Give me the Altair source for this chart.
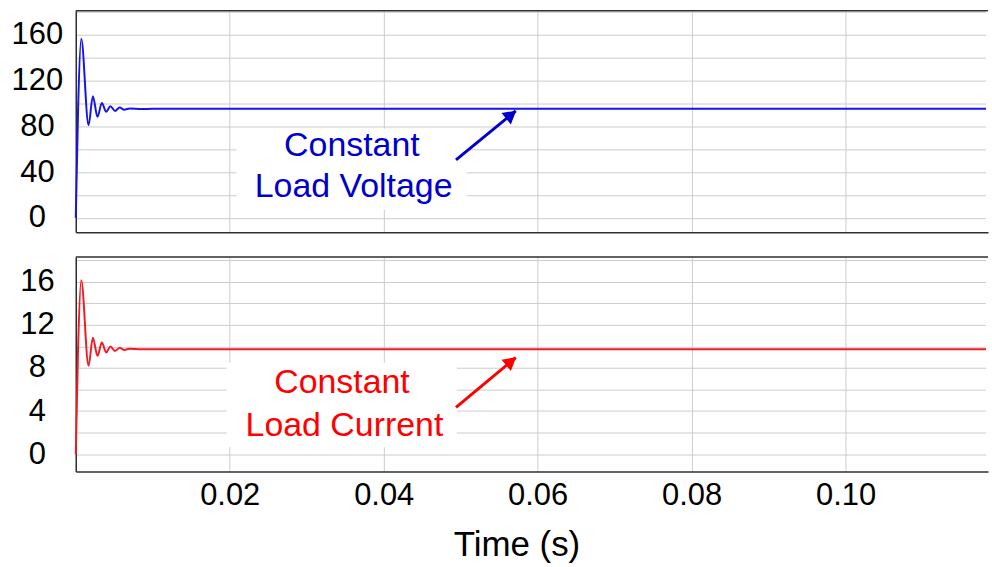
import altair as alt
import pandas as pd

# ---------------- data ----------------
t_ms = [0.0, 0.3, 0.71, 1.66, 2.22, 2.82, 3.39, 3.95, 4.5, 5.1, 5.7, 6.3, 7.0,
        8.5, 10.0, 30.0, 60.0, 90.0, 118.5]
voltage = [0.0, 95.0, 156.5, 81.0, 106.4, 88.3, 100.5, 92.7, 97.6, 93.5, 96.4,
           94.6, 95.6, 95.2, 95.3, 95.3, 95.3, 95.3, 95.3]
current = [0.0, 9.8, 16.16, 8.2, 10.82, 9.13, 10.36, 9.44, 9.99, 9.59, 9.87,
           9.68, 9.80, 9.74, 9.75, 9.75, 9.75, 9.75, 9.75]

x_grid = [0.0, 0.02, 0.04, 0.06, 0.08, 0.10]
x_domain = [0.0, 0.1185]

v_grid = [0, 20, 40, 60, 80, 100, 120, 140, 160, 180]
v_domain = [-12.5, 181.0]
i_grid = [0, 2, 4, 6, 8, 10, 12, 14, 16, 18]
i_domain = [-1.6, 18.3]

# annotations
v_text = ["Constant", "Load Voltage"]
v_text_t = [0.03587, 0.03609]
v_text_y = [63.0, 27.0]
v_box_t = [0.0209, 0.0508]
v_box_y = [7.0, 77.8]
v_arrow_t = [0.04939, 0.05715]
v_arrow_y = [50.7, 93.5]
v_head = [0.05656, 90.2]

i_text = ["Constant", "Load Current"]
i_text_t = [0.03458, 0.0349]
i_text_y = [6.6, 2.6]
i_box_t = [0.0196, 0.0495]
i_box_y = [0.65, 8.5]
i_arrow_t = [0.04939, 0.05715]
i_arrow_y = [4.35, 8.97]
i_head = [0.05656, 8.62]

W = 915
H1, H2 = 222, 215
FONT = "Liberation Sans"
FRAME = "#2e2e2e"

xscale = alt.Scale(domain=x_domain, nice=False, zero=False)


def panel(values, color, text_color, ydomain, ygrid, labstep, h, texts, tt, ty,
          box_t, box_y, arr_t, arr_y, head, bottom):
    yscale = alt.Scale(domain=ydomain, nice=False, zero=False)
    if bottom:
        xaxis = alt.Axis(values=x_grid, title="Time (s)",
                         labelExpr="datum.value == 0 ? '' : format(datum.value, '.2f')",
                         labelFontSize={"condition": {"test": "datum.value == 0", "value": 0},
                                        "value": 31},
                         ticks=False, tickSize=0, labelPadding=9, titlePadding=17,
                         titleX=442, titleAnchor="middle", titleAlign="center",
                         labelOverlap=False, labelFlush=False, grid=True)
    else:
        xaxis = alt.Axis(values=x_grid, title=None, labels=False, ticks=False,
                         tickSize=0, grid=True)
    yaxis = alt.Axis(values=ygrid, title=None,
                     labelExpr=f"datum.value % {labstep} == 0 ? datum.label : ''",
                     labelFontSize={"condition": {"test": f"datum.value % {labstep} != 0",
                                                  "value": 0},
                                    "value": 31},
                     labelAlign="center", labelBaseline="middle", labelPadding=39,
                     ticks=False, tickSize=0, labelOverlap=False, grid=True)

    def X(f="t:Q"):
        return alt.X(f, scale=xscale, axis=xaxis)

    def Y(f="y:Q"):
        return alt.Y(f, scale=yscale, axis=yaxis)

    df = pd.DataFrame({"t": [v / 1000 for v in t_ms], "y": values})
    line = alt.Chart(df).mark_line(color=color, strokeWidth=2,
                                   interpolate="monotone").encode(x=X(), y=Y())

    bdf = pd.DataFrame({"t": [box_t[0]], "t2": [box_t[1]],
                        "y": [box_y[0]], "y2": [box_y[1]]})
    box = alt.Chart(bdf).mark_rect(color="white").encode(
        x=X(), x2="t2:Q", y=Y(), y2="y2:Q")

    tdf = pd.DataFrame({"t": tt, "y": ty, "label": texts})
    text = alt.Chart(tdf).mark_text(font=FONT, fontSize=34, color=text_color,
                                    align="center", baseline="middle").encode(
        x=X(), y=Y(), text="label:N")

    adf = pd.DataFrame({"t": [arr_t[0]], "t2": [arr_t[1]],
                        "y": [arr_y[0]], "y2": [arr_y[1]]})
    arrow = alt.Chart(adf).mark_rule(color=text_color, strokeWidth=3).encode(
        x=X(), x2="t2:Q", y=Y(), y2="y2:Q")

    hdf = pd.DataFrame({"t": [head[0]], "y": [head[1]]})
    arrow_head = alt.Chart(hdf).mark_point(shape="triangle-up", filled=True,
                                           size=220, angle=51, opacity=1,
                                           color=text_color).encode(x=X(), y=Y())

    top = alt.Chart(pd.DataFrame({"a": [0]})).mark_rule(
        color=FRAME, strokeWidth=1.5).encode(
        x=alt.value(0), x2=alt.value(W), y=alt.value(0))

    # white strip hiding the right-hand edge (the reference has no right border)
    right_cover = alt.Chart(pd.DataFrame({"a": [0]})).mark_rule(
        color="white", strokeWidth=4).encode(
        x=alt.value(W), y=alt.value(1), y2=alt.value(h - 1))

    return alt.layer(line, box, text, arrow, arrow_head, top,
                     right_cover).properties(width=W, height=h)


top_panel = panel(voltage, "#1414f0", "#0000cc", v_domain, v_grid, 40, H1,
                  v_text, v_text_t, v_text_y, v_box_t, v_box_y,
                  v_arrow_t, v_arrow_y, v_head, False)
bottom_panel = panel(current, "#f01c24", "#ff0000", i_domain, i_grid, 4, H2,
                     i_text, i_text_t, i_text_y, i_box_t, i_box_y,
                     i_arrow_t, i_arrow_y, i_head, True)

chart = alt.vconcat(top_panel, bottom_panel, spacing=23).properties(
    padding={"left": 11, "top": 9, "right": 0, "bottom": 0},
    background="white",
).configure_view(stroke="transparent", strokeWidth=0, strokeOpacity=0).configure_axis(
    domainColor=FRAME, domainWidth=1.5,
    gridColor="#cccccc", gridWidth=1,
    labelFont=FONT, titleFont=FONT,
    labelColor="black", titleColor="black",
    labelFontSize=31, titleFontSize=35, titleFontWeight="normal",
)

chart.save("out.html", embed_options={"renderer": "svg", "actions": False})
